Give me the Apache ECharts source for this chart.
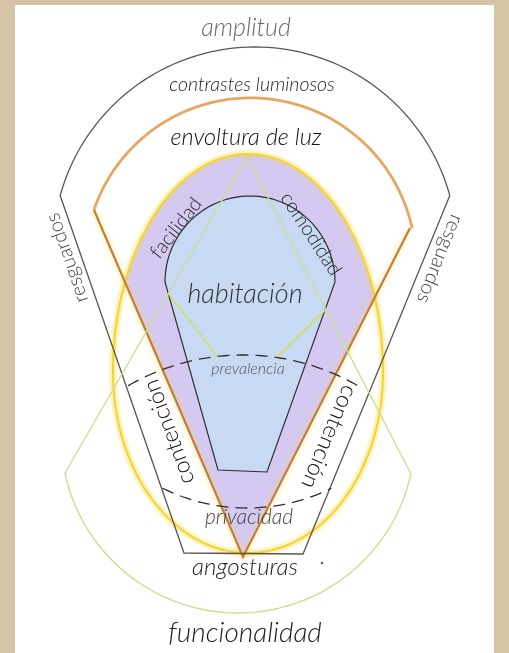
<!DOCTYPE html>
<html><head><meta charset="utf-8">
<script src="https://cdn.jsdelivr.net/npm/echarts@6/dist/echarts.min.js"></script>
<style>html,body{margin:0;padding:0;background:#d5c3a5;} #c{width:509px;height:653px;}</style>
</head><body><div id="c"></div>
<script>
// ---------- diagram data (diagram units on hidden value axes) ----------
const labelText = ['amplitud','contrastes luminosos','envoltura de luz','facilidad','comodidad','habitación','prevalencia','resguardos','resguardos','contención','contención','privacidad','angosturas','funcionalidad'];
const labelPos  = [[246,28],[252,85],[246,137],[176,228],[311,234],[245,294],[248,369],[67,258],[440,259],[169,432],[329,437],[249,517],[245,567],[245,633]];
const labelAngle = [0,0,0,52,-57,0,0,109,-112,110,-113,0,0,0];
const labelSize  = [25,19.5,23.5,20,20,27,16,20,20,23,23,21,24,28];
const labelItalic = [1,1,1,0,0,1,1,0,0,0,0,1,1,1];
const labelColor = ['#6a6a6a','#1e1e1e','#111','#2a2a2a','#2a2a2a','#333','#555','#444','#444','#111','#111','#444','#222','#222'];

const panel = [[15,5],[494,5],[494,653],[15,653]];
const amplitudArc = [255, 249, 202, 164.5, 15.5];          // cx, cy, r, startDeg, endDeg
const amplitudSides = [[60,195],[184,553],[303,554],[450,195]];
const luzArc = [250.5, 263.3, 165.4, 161.2, 12.3];
const luzSides = [[94,210],[243,557],[410,228]];
const ellipseCore = [248, 372, 135, 218, 181];              // cx, cy, rx, ryTop, ryBottom
const habitacionDome = [250, 282, 85, 86];                  // cx, cy, rx, ry
const habitacionBase = [[267,472],[218,470]];
const funcionTriangle = [[65,473],[247,157],[411,474]];
const funcionArc = [238, 436, 177, 192, 347.6];
const funcionInner = [[[168,293],[218,357]],[[277,357],[325,310]]];
const prevalenciaArc = [243, 585, 230, 120, 59];
const privacidadArc = [247, 318, 190, 243.6, 296.3];
const dotMark = [[322,563]];

// ---------- geometry helpers ----------
const D = Math.PI/180;
function arcPts(a, n){ const [cx,cy,r,a0,a1]=a; const out=[]; for(let i=0;i<=n;i++){const t=(a0+(a1-a0)*i/n)*D; out.push([cx+r*Math.cos(t), cy-r*Math.sin(t)]);} return out; }
function ellPt(t){ const [cx,cy,rx,ryT,ryB]=ellipseCore; const s=Math.sin(t*D); return [cx+rx*Math.cos(t*D), cy-(s>=0?ryT:ryB)*s]; }
function side(a,b,p){ return (b[0]-a[0])*(p[1]-a[1])-(b[1]-a[1])*(p[0]-a[0]); }
const ellipsePts = []; for(let t=0;t<=360;t+=2) ellipsePts.push(ellPt(t));
const apex = luzSides[1];
const ref = [248,300];
function inWedge(p){ return side(apex,luzSides[0],p)*side(apex,luzSides[0],ref)>0 && side(apex,luzSides[2],p)*side(apex,luzSides[2],ref)>0; }
const purplePts = []; for(let k=0;k<=360;k++){ const p=ellPt(180-k*0.5); if(inWedge(p)) purplePts.push(p); } purplePts.push(apex);
const domePts = []; { const [cx,cy,rx,ry]=habitacionDome; for(let t=180;t>=0;t-=3) domePts.push([cx+rx*Math.cos(t*D), cy-ry*Math.sin(t*D)]); }
const habitacionPts = domePts.concat(habitacionBase);

// ---------- series builders ----------
function shape(type, pts, style, z){
  return { type:'custom', coordinateSystem:'cartesian2d', data:[[0,0]], silent:true, clip:false, z:z||2,
    renderItem:(params, api)=>({ type:type, shape:{ points: pts.map(p=>api.coord(p)) }, style:style }) };
}
const dark = '#5b5650';
const series = [
  shape('polygon', panel, {fill:'#ffffff'}, 1),
  shape('polyline', ellipsePts, {fill:'none', stroke:'rgba(250,230,130,0.28)', lineWidth:7}, 2),
  shape('polygon', purplePts, {fill:'#d5c9f2'}, 2),
  shape('polygon', habitacionPts, {fill:'#c8daf3', stroke:'#2e2e2e', lineWidth:1.2}, 3),
  shape('polyline', ellipsePts, {fill:'none', stroke:'#f3d52e', lineWidth:2, shadowBlur:5, shadowColor:'rgba(250,215,60,0.8)'}, 4),
  shape('polyline', arcPts(luzArc,80), {fill:'none', stroke:'#e9a562', lineWidth:2.8}, 5),
  shape('polyline', luzSides, {fill:'none', stroke:'#c47d36', lineWidth:2.2, shadowBlur:6, shadowColor:'rgba(250,215,80,0.8)'}, 5),
  shape('polyline', arcPts(amplitudArc,80), {fill:'none', stroke:dark, lineWidth:1.3}, 5),
  shape('polyline', amplitudSides, {fill:'none', stroke:dark, lineWidth:1.3}, 5),
  shape('polyline', funcionTriangle, {fill:'none', stroke:'#c9e08f', lineWidth:1.4}, 6),
  shape('polyline', arcPts(funcionArc,80), {fill:'none', stroke:'#c9e08f', lineWidth:1.4}, 6),
  shape('polyline', funcionInner[0], {fill:'none', stroke:'#cde36e', lineWidth:1.9}, 6),
  shape('polyline', funcionInner[1], {fill:'none', stroke:'#cde36e', lineWidth:1.9}, 6),
  shape('polyline', arcPts(prevalenciaArc,60), {fill:'none', stroke:'#2e2e2e', lineWidth:1.3, lineDash:[12,7]}, 6),
  shape('polyline', arcPts(privacidadArc,60), {fill:'none', stroke:'#2e2e2e', lineWidth:1.3, lineDash:[12,7]}, 6),
  { type:'scatter', data:dotMark, symbolSize:2.5, itemStyle:{color:'#333'}, silent:true, z:6 },
  { type:'custom', coordinateSystem:'cartesian2d', silent:true, clip:false, z:10,
    data: labelText.map((t,i)=>[labelPos[i][0], labelPos[i][1], i]),
    renderItem:(params, api)=>{
      const i = api.value(2); const c = api.coord([api.value(0), api.value(1)]);
      return { type:'text', x:c[0], y:c[1], rotation:labelAngle[i]*D,
        style:{ text:labelText[i], fontSize:labelSize[i], fontFamily:'Lato, "Open Sans", sans-serif', fontWeight:300,
          fontStyle: labelItalic[i] ? 'italic' : 'normal', fill:labelColor[i], align:'center', verticalAlign:'middle' } };
    } }
];

const chart = echarts.init(document.getElementById('c'), null, {renderer:'canvas'});
chart.setOption({
  backgroundColor:'#d5c3a5',
  animation:false,
  grid:{left:0,right:0,top:0,bottom:0,containLabel:false},
  xAxis:{type:'value',min:0,max:509,show:false},
  yAxis:{type:'value',min:0,max:653,inverse:true,show:false},
  series: series
});
</script></body></html>
